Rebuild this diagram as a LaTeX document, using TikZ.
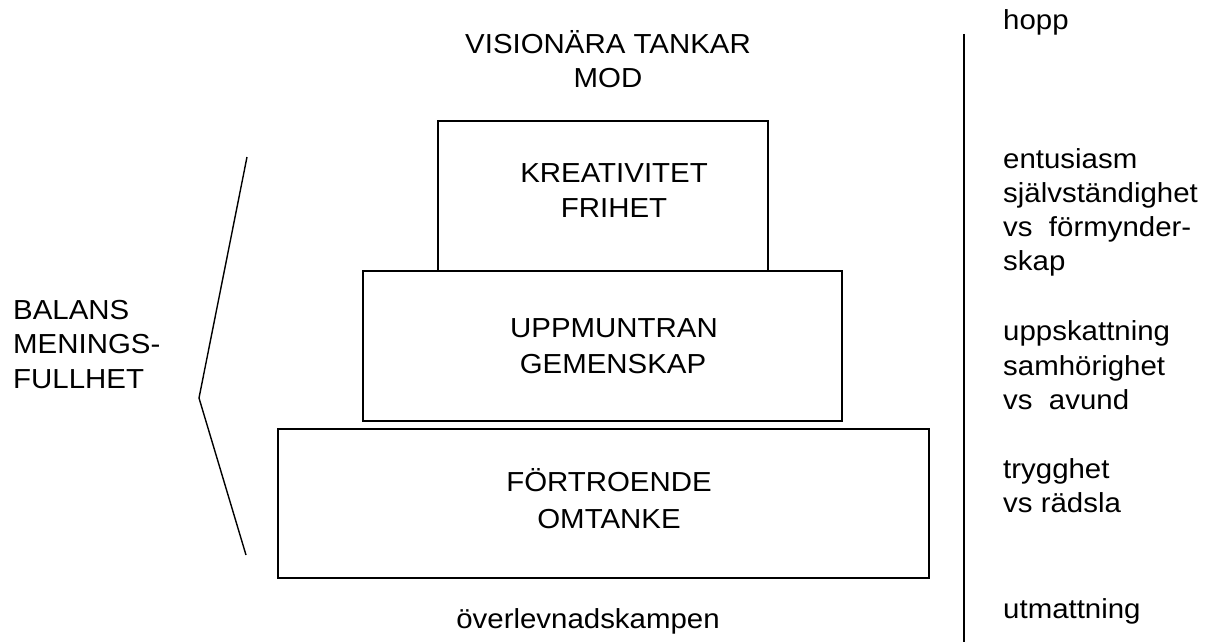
\documentclass[tikz,border=0pt]{standalone}
\usepackage{fontspec}
\setmainfont{Liberation Sans}[FakeStretch=1.07]
\begin{document}
\begin{tikzpicture}[x=1pt,y=-1pt,
  lvl/.style={draw,line width=2pt,inner sep=0pt},
  txt/.style={font=\fontsize{27.5}{35}\selectfont,inner sep=0pt,anchor=base},
  rtxt/.style={txt,anchor=base west}]
\useasboundingbox (0,0) rectangle (1209,642);
% boxes
\node[lvl,minimum width=330pt,minimum height=150pt] (top) at (603,196) {};
\node[lvl,minimum width=479pt,minimum height=150pt] (mid) at (602.5,346) {};
\node[lvl,minimum width=651pt,minimum height=149pt] (bot) at (603.5,503.5) {};
% centre texts
\node[txt] (v1) at (608,53) {VISIONÄRA TANKAR};
\node[txt] (v2) at (608,88) {MOD};
\node[txt] (k1) at (614,182) {KREATIVITET};
\node[txt] (k2) at (614,217) {FRIHET};
\node[txt] (u1) at (614,337) {UPPMUNTRAN};
\node[txt] (u2) at (613,373) {GEMENSKAP};
\node[txt] (f1) at (609,491) {FÖRTROENDE};
\node[txt] (f2) at (609,528) {OMTANKE};
\node[txt] (ov) at (588,628) {överlevnadskampen};
% left texts
\node[rtxt] (b1) at (13,319) {BALANS};
\node[rtxt] (b2) at (13,353) {MENINGS-};
\node[rtxt] (b3) at (13,388) {FULLHET};
% bracket
\coordinate (bt) at (247,157);
\coordinate (bm) at (199,398);
\coordinate (bb) at (246,555);
\draw[line width=1.4pt] (bt) -- (bm) -- (bb);
% vertical line
\coordinate (vt) at (964,34);
\coordinate (vb) at (964,642);
\draw[line width=2pt] (vt) -- (vb);
% right texts
\node[rtxt] (r1) at (1003,30) {hopp};
\node[rtxt] (r2) at (1003,168) {entusiasm};
\node[rtxt] (r3) at (1003,202) {självständighet};
\node[rtxt] (r4) at (1003,236) {vs\ \ förmynder-};
\node[rtxt] (r5) at (1003,270) {skap};
\node[rtxt] (r6) at (1003,340) {uppskattning};
\node[rtxt] (r7) at (1003,375) {samhörighet};
\node[rtxt] (r8) at (1003,409) {vs\ \ avund};
\node[rtxt] (r9) at (1003,478) {trygghet};
\node[rtxt] (r10) at (1003,512) {vs rädsla};
\node[rtxt] (r11) at (1003,618) {utmattning};
\end{tikzpicture}
\end{document}
